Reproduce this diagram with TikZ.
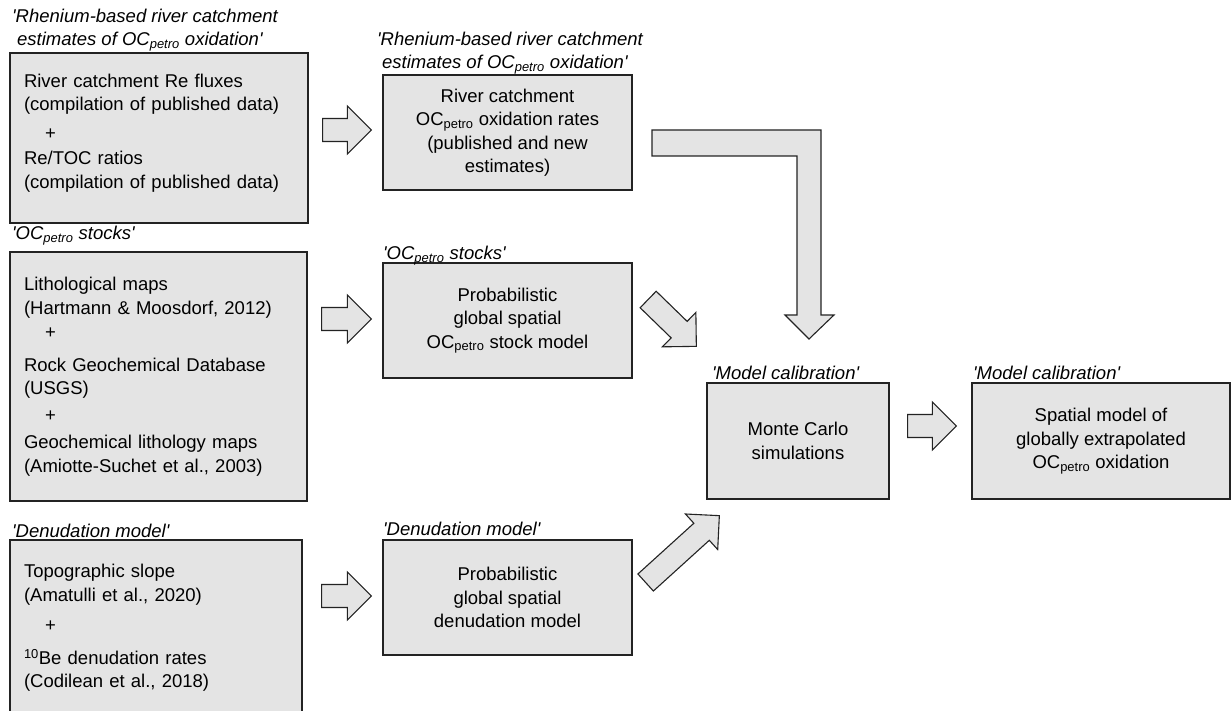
\documentclass[tikz,border=0pt]{standalone}
\usepackage{fontspec}
\setmainfont{Liberation Sans}
\usetikzlibrary{calc,positioning}
\definecolor{boxgray}{RGB}{228,228,228}
\definecolor{edgegray}{RGB}{35,35,35}
\newcommand{\ocp}{OC\textsubscript{petro}}
\newcommand{\sq}{\textquotesingle}
% block arrow from tail to tip
\newcommand{\blockarrow}[2]{%
  \coordinate (ta) at (#1);
  \coordinate (tb) at (#2);
  \coordinate (th) at ($(tb)!24pt!(ta)$);
  \draw[blockarr] ($(ta)!11.5pt!90:(tb)$) -- ($(th)!11.5pt!-90:(ta)$) -- ($(th)!24pt!-90:(ta)$) -- (tb)
    -- ($(th)!24pt!90:(ta)$) -- ($(th)!11.5pt!90:(ta)$) -- ($(ta)!11.5pt!-90:(tb)$) -- cycle;}
\tikzset{
  srcbox/.style={draw=edgegray, fill=boxgray, line width=1.3pt, align=left, inner xsep=14pt, inner ysep=0pt},
  modbox/.style={draw=edgegray, fill=boxgray, line width=1.3pt, align=center, inner sep=0pt},
  lbl/.style={font=\fontsize{18.5}{23}\selectfont\itshape, inner sep=0pt, align=left},
  blockarr/.style={draw=edgegray, fill=boxgray, line width=1.1pt, line join=miter},
}

\begin{document}
\begin{tikzpicture}[x=1pt,y=-1pt,font=\fontsize{18.5}{23.5}\selectfont]
	\useasboundingbox (0,0) rectangle (1232,711);
	
	% input data
	\node[srcbox, text width=270pt, minimum height=170pt] (a1) at (159,138) {River catchment Re fluxes\\(compilation of published data)\\[5.5pt]\hspace*{21pt}+\\[1.5pt]Re/TOC ratios\\(compilation of published data)\rule[-14pt]{0pt}{1pt}};
	\node[srcbox, text width=269pt, minimum height=249pt] (a2) at (158.5,376.5) {Lithological maps\\(Hartmann \& Moosdorf, 2012)\\[0.5pt]\hspace*{21pt}+\\[9.5pt]Rock Geochemical Database\\(USGS)\\[3.5pt]\hspace*{21pt}+\\[3.5pt]Geochemical lithology maps\\(Amiotte-Suchet et al., 2003)};
	\node[srcbox, text width=264pt, minimum height=176pt] (a3) at (156,628) {Topographic slope\\(Amatulli et al., 2020)\\[6.5pt]\hspace*{21pt}+\\[9.5pt]\textsuperscript{10}Be denudation rates\\(Codilean et al., 2018)};
	
	% models
	\node[modbox, minimum width=249pt, minimum height=115pt] (b1) at (507.5,132.5) {River catchment\\\ocp{} oxidation rates\\(published and new\\estimates)};
	\node[modbox, minimum width=249pt, minimum height=115pt] (b2) at (507.5,320.5) {Probabilistic\\global spatial\\\ocp{} stock model};
	\node[modbox, minimum width=249pt, minimum height=115pt] (b3) at (507.5,597.5) {Probabilistic\\global spatial\\denudation model};
	\node[modbox, minimum width=182pt, minimum height=116pt] (c) at (798,441) {Monte Carlo\\simulations};
	\node[modbox, minimum width=258pt, minimum height=116pt] (d) at (1101,441) {Spatial model of\\globally extrapolated\\\ocp{} oxidation};
	
	% labels
	\node[lbl, anchor=north west] (a1l) at (12,9) {\sq Rhenium-based river catchment\\\hspace*{5pt}estimates of \ocp{} oxidation\sq};
	\node[lbl, anchor=north west] (b1l) at (377,32) {\sq Rhenium-based river catchment\\\hspace*{5pt}estimates of \ocp{} oxidation\sq};
	\node[lbl, anchor=base west] (a2l) at (12,240) {\sq\ocp{} stocks\sq};
	\node[lbl, anchor=base west] (b2l) at (383,260) {\sq\ocp{} stocks\sq};
	\node[lbl, anchor=base west] (a3l) at (12,537) {\sq Denudation model\sq};
	\node[lbl, anchor=base west] (b3l) at (383,535) {\sq Denudation model\sq};
	\node[lbl, anchor=base west] (cl) at (712,380) {\sq Model calibration\sq};
	\node[lbl, anchor=base west] (dl) at (973,380) {\sq Model calibration\sq};
	
	% arrows
	\blockarrow{$(a1.east)+(14,-8)$}{$(b1.west)+(-11,-2.5)$}
	\blockarrow{$(a2.east |- b2.west)+(14,-1.5)$}{$(b2.west)+(-11,-1.5)$}
	\blockarrow{$(a3.east |- b3.west)+(19,-1.5)$}{$(b3.west)+(-11,-1.5)$}
	\blockarrow{$(b2.east)+(15.5,-21)$}{$(c.north west)+(-10,-36)$}
	\blockarrow{$(b3.east)+(13,-15)$}{$(c.south west)+(13,16)$}
	\blockarrow{$(c.east)+(18,-15)$}{$(d.west)+(-15,-15)$}
	\draw[blockarr] (652,130) -- (821,130) -- (821,315) -- (834,315) -- (809,339) -- (785,315) -- (797,315) -- (797,156) -- (652,156) -- cycle;
\end{tikzpicture}
\end{document}
